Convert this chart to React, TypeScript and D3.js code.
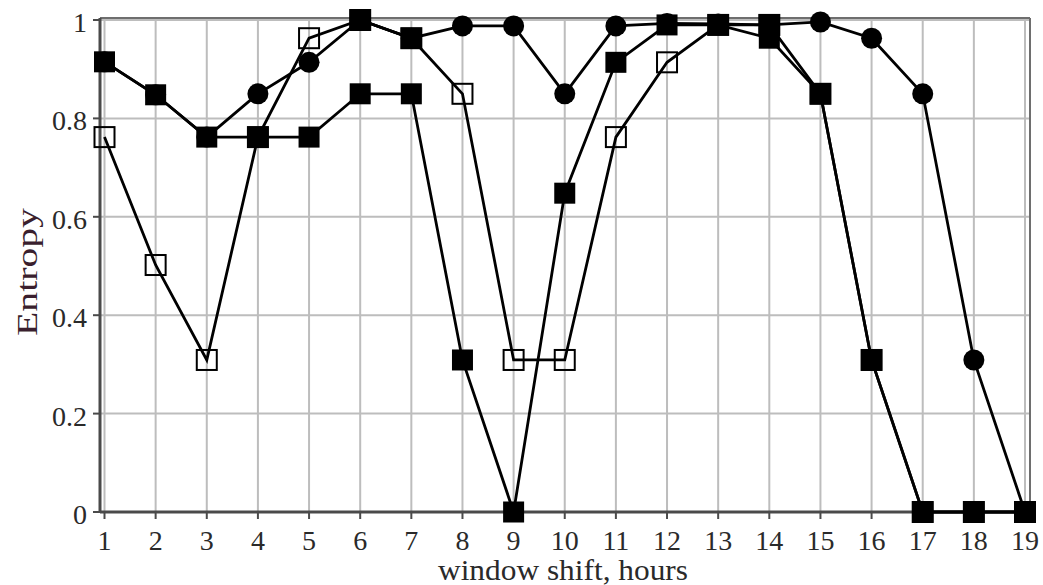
import React from "react";
import * as d3 from "d3";

// Window shifts (hours) along the horizontal axis
const shifts = d3.range(1, 20);

// Entropy per window shift for each series
const circleSeries = [0.915, 0.848, 0.762, 0.85, 0.914, 1.0, 0.963, 0.988, 0.988, 0.85, 0.988, 0.993, 0.992, 0.99, 0.996, 0.963, 0.85, 0.309, 0];
const filledSeries = [0.915, 0.848, 0.762, 0.762, 0.762, 0.85, 0.85, 0.309, 0, 0.648, 0.914, 0.99, 0.99, 0.963, 0.85, 0.309, 0, 0, 0];
const openSeries = [0.762, 0.502, 0.309, 0.762, 0.963, 1.0, 0.963, 0.85, 0.309, 0.309, 0.762, 0.914, 0.99, 0.99, 0.85, 0.309, 0, 0, 0];
const extraSeries: (number | null)[] = [null, null, null, null, null, 1.0, 0.963, null, null, null, null, null, null, 0.99, null, null, null, null, null];

const yTicks = [0, 0.2, 0.4, 0.6, 0.8, 1];
const yTickLabels = ["0", "0.2", "0.4", "0.6", "0.8", "1"];

const W = 1043;
const H = 585;
const frame = { left: 100, right: 1030, top: 18, bottom: 512 };

export default function App() {
  const x = d3.scaleLinear().domain([1, 19]).range([104.5, 1025]);
  const y = d3.scaleLinear().domain([0, 1]).range([512, 20]);

  const line = d3
    .line<number | null>()
    .defined((d) => d !== null)
    .x((_, i) => x(shifts[i]))
    .y((d) => y(d as number));

  const sq = 21;
  const font = "'Liberation Serif', 'DejaVu Serif', serif";

  return (
    <div style={{ position: "absolute", left: 0, top: 0 }}>
      <svg width={W} height={H} style={{ display: "block", background: "#fff" }}>
        {/* grid */}
        {shifts.map((s) => (
          <line key={"gx" + s} x1={x(s)} x2={x(s)} y1={frame.top} y2={frame.bottom} stroke="#bdbdbd" strokeWidth={2} />
        ))}
        {yTicks.map((t) => (
          <line key={"gy" + t} x1={frame.left} x2={frame.right} y1={y(t)} y2={y(t)} stroke="#bdbdbd" strokeWidth={2} />
        ))}
        {/* frame */}
        <line x1={frame.left} x2={frame.right} y1={frame.top} y2={frame.top} stroke="#6e6e6e" strokeWidth={2} />
        <line x1={frame.right} x2={frame.right} y1={frame.top} y2={frame.bottom} stroke="#6e6e6e" strokeWidth={2} />
        <line x1={frame.left} x2={frame.left} y1={frame.top} y2={frame.bottom + 1} stroke="#4a4a4a" strokeWidth={3} />
        <line x1={frame.left} x2={frame.right} y1={frame.bottom} y2={frame.bottom} stroke="#4a4a4a" strokeWidth={3} />

        {/* y ticks */}
        {yTicks.map((t, i) => (
          <g key={"yt" + t}>
            <line x1={frame.left - 7} x2={frame.left} y1={y(t)} y2={y(t)} stroke="#4a4a4a" strokeWidth={2} />
            <text x={frame.left - 13} y={y(t) + 12} textAnchor="end" fontFamily={font} fontSize={28} fill="#2a2a2a">
              {yTickLabels[i]}
            </text>
          </g>
        ))}
        {/* x ticks */}
        {shifts.map((s) => (
          <g key={"xt" + s}>
            <line x1={x(s)} x2={x(s)} y1={frame.bottom} y2={frame.bottom + 7} stroke="#4a4a4a" strokeWidth={2} />
            <text x={x(s)} y={550} textAnchor="middle" fontFamily={font} fontSize={28} fill="#2a2a2a">
              {s}
            </text>
          </g>
        ))}

        {/* axis titles */}
        <text
          x={563}
          y={580}
          textAnchor="middle"
          fontFamily={font}
          fontSize={29}
          textLength={250}
          lengthAdjust="spacingAndGlyphs"
          fill="#2a2a2a"
        >
          window shift, hours
        </text>
        <text
          transform={`translate(37, 272) rotate(-90)`}
          textAnchor="middle"
          fontFamily={font}
          fontSize={29}
          textLength={128}
          lengthAdjust="spacingAndGlyphs"
          fill="#3a1f2e"
        >
          Entropy
        </text>

        {/* series lines */}
        {[circleSeries, openSeries, filledSeries, extraSeries].map((s, k) => (
          <path key={"l" + k} d={line(s as (number | null)[]) || ""} fill="none" stroke="#000" strokeWidth={2.8} />
        ))}

        {/* markers */}
        {circleSeries.map((v, i) => (
          <circle key={"c" + i} cx={x(shifts[i])} cy={y(v)} r={10.5} fill="#000" />
        ))}
        {openSeries.map((v, i) => (
          <rect key={"o" + i} x={x(shifts[i]) - 10} y={y(v) - 10} width={20} height={20} fill="none" stroke="#000" strokeWidth={2} />
        ))}
        {filledSeries.map((v, i) => (
          <rect key={"f" + i} x={x(shifts[i]) - sq / 2} y={y(v) - sq / 2} width={sq} height={sq} fill="#000" />
        ))}
        {extraSeries.map((v, i) =>
          v === null ? null : (
            <rect key={"e" + i} x={x(shifts[i]) - sq / 2} y={y(v) - sq / 2} width={sq} height={sq} fill="#000" />
          )
        )}
      </svg>
    </div>
  );
}
